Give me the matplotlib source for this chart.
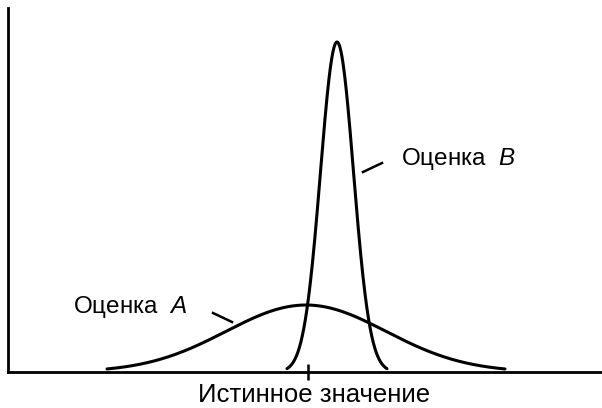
import numpy as np
import matplotlib
matplotlib.use("Agg")
import matplotlib.pyplot as plt

plt.rcParams['font.family'] = ['Liberation Sans', 'DejaVu Sans']
plt.rcParams['mathtext.fontset'] = 'custom'
plt.rcParams['mathtext.it'] = 'Liberation Sans:italic'
plt.rcParams['mathtext.rm'] = 'Liberation Sans'

# Horizontal positions in axis units (0 at left edge), vertical in the same units
true_value = 300.0

# Estimator A: broad, slightly off-centre
a_center, a_sd, a_peak, a_halfwidth = 298.0, 80.0, 67.0, 199.0
# Estimator B: narrow, biased to the right
b_center, b_sd, b_peak, b_halfwidth = 329.0, 16.5, 330.0, 50.0

labels = ["Оценка  $\\mathit{A}$", "Оценка  $\\mathit{B}$"]
axis_label = "Истинное значение"


def bell(center, sd, peak, halfwidth):
    x = np.linspace(center - halfwidth, center + halfwidth, 400)
    return x, peak * np.exp(-0.5 * ((x - center) / sd) ** 2)


fig = plt.figure(figsize=(6.02, 4.08), dpi=100)
ax = fig.add_axes([8 / 602, 36 / 408, 594 / 602, 364 / 408])
ax.set_xlim(0, 594)
ax.set_ylim(0, 364)

for c, s, p, h in [(a_center, a_sd, a_peak, a_halfwidth),
                   (b_center, b_sd, b_peak, b_halfwidth)]:
    x, y = bell(c, s, p, h)
    ax.plot(x, y, color='black', lw=2.2, solid_capstyle='round', clip_on=False)

for side in ['top', 'right']:
    ax.spines[side].set_visible(False)
for side in ['left', 'bottom']:
    ax.spines[side].set_linewidth(2.0)

ax.set_yticks([])
ax.set_xticks([true_value])
ax.set_xticklabels([""])
ax.tick_params(axis='x', direction='inout', length=12, width=1.8)
fig.text(314 / 602, 0.5 / 408, axis_label, fontsize=18.5, ha='center',
         va='bottom')

# Labels with short leader strokes
ax.text(65, 65, labels[0], fontsize=17.5, ha='left', va='center')
ax.plot([205, 224], [59, 50], color='black', lw=1.8)
ax.text(393, 213, labels[1], fontsize=17.5, ha='left', va='center')
ax.plot([355, 374], [200, 209], color='black', lw=1.8)

fig.savefig("out.png", dpi=100)
